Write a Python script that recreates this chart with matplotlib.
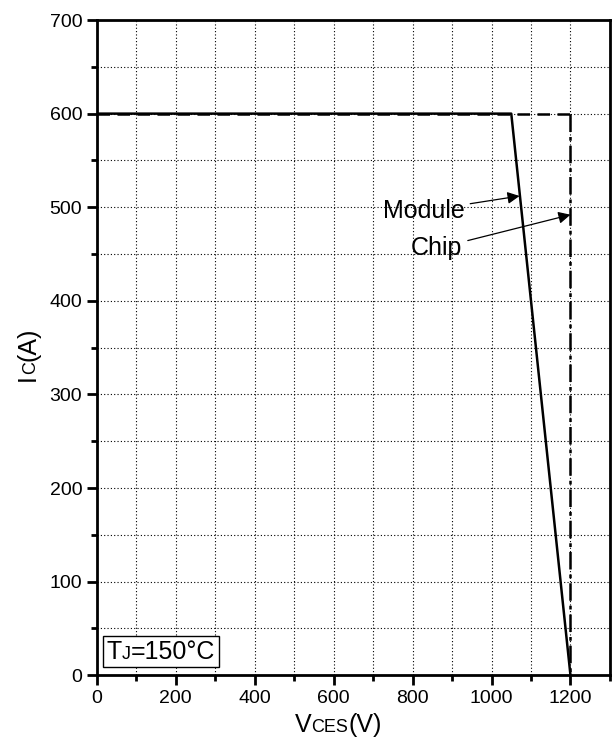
import matplotlib
matplotlib.use("Agg")
import matplotlib.pyplot as plt
from matplotlib.ticker import MultipleLocator
from matplotlib.offsetbox import TextArea, HPacker, AnchoredOffsetbox

plt.rcParams["font.family"] = ["Liberation Sans", "DejaVu Sans"]

# data
module_v = [0, 1050, 1200]
module_i = [600, 600, 0]
chip_h_v = [0, 1200]
chip_h_i = [600, 600]
chip_v_v = [1200, 1200]
chip_v_i = [600, 0]

fig = plt.figure(figsize=(6.13, 7.42), dpi=100)
ax = fig.add_axes([0.158, 0.090, 0.837, 0.883])

ax.plot(chip_h_v, chip_h_i, color="k", lw=1.8, ls=(0, (5, 3)))
ax.plot(chip_v_v, chip_v_i, color="k", lw=1.8, ls=(0, (7, 2, 1.5, 2)))
ax.plot(module_v, module_i, color="k", lw=1.8)

ax.set_xlim(0, 1300)
ax.set_ylim(0, 700)
ax.xaxis.set_major_locator(MultipleLocator(200))
ax.xaxis.set_minor_locator(MultipleLocator(100))
ax.yaxis.set_major_locator(MultipleLocator(100))
ax.yaxis.set_minor_locator(MultipleLocator(50))
ax.grid(True, which="both", ls=(0, (1, 2)), color="k", lw=0.8)
ax.tick_params(which="major", direction="out", length=7, width=2, labelsize=14)
ax.tick_params(which="minor", direction="out", length=4, width=2)
for s in ax.spines.values():
    s.set_linewidth(2)

ax.annotate("Module", xy=(1071, 512), xytext=(932, 496), fontsize=18,
            ha="right", va="center",
            arrowprops=dict(arrowstyle="-|>", color="k", lw=0.9, shrinkA=2, shrinkB=0))
ax.annotate("Chip", xy=(1200, 492), xytext=(926, 456), fontsize=18,
            ha="right", va="center",
            arrowprops=dict(arrowstyle="-|>", color="k", lw=0.9, shrinkA=2, shrinkB=0))


def mixed(parts):
    return HPacker(children=[TextArea(t, textprops=dict(size=s)) for t, s in parts],
                   align="baseline", pad=0, sep=0)


xl = AnchoredOffsetbox(loc="upper center", child=mixed([("V", 18), ("CES", 13), ("(V)", 18)]),
                       bbox_to_anchor=(0.47, -0.058), bbox_transform=ax.transAxes,
                       frameon=False, pad=0, borderpad=0)
ax.add_artist(xl)

# y label: pieces stacked along a rotated baseline
fig.canvas.draw()
r = fig.canvas.get_renderer()
ypix = 742 - 381
for t, s in [("I", 18), ("C", 13), ("(A)", 18)]:
    tx = fig.text(35 / 613, ypix / 742, t, rotation=90, fontsize=s,
                  rotation_mode="anchor", ha="left", va="baseline")
    ypix += tx.get_window_extent(r).height

tj = AnchoredOffsetbox(loc="lower left", child=mixed([("T", 18), ("J", 13), ("=150°C", 18)]),
                       bbox_to_anchor=(0.012, 0.012), bbox_transform=ax.transAxes,
                       frameon=True, pad=0.25, borderpad=0)
tj.patch.set_edgecolor("k")
tj.patch.set_linewidth(1)
tj.patch.set_boxstyle("square", pad=0)
ax.add_artist(tj)

fig.savefig("out.png", dpi=100)
